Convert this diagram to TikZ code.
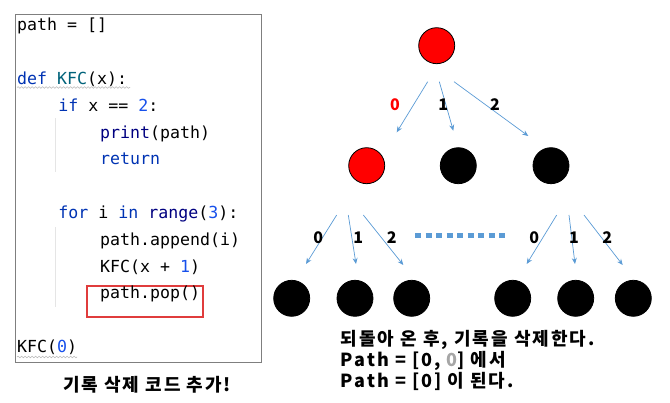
\documentclass[tikz,border=0pt]{standalone}
\usepackage{fontspec}
\setmonofont{DejaVu Sans Mono}
\newfontfamily\kr{Noto Sans CJK KR}
\newfontfamily\krw{Noto Sans CJK KR}[LetterSpace=11]
\usetikzlibrary{arrows.meta,decorations.pathmorphing}
\definecolor{kwc}{HTML}{0033B3}
\definecolor{bic}{HTML}{000080}
\definecolor{fnc}{HTML}{00627A}
\definecolor{numc}{HTML}{1750EB}
\definecolor{arrc}{HTML}{5B9BD5}
\definecolor{boxc}{HTML}{7F7F7F}
\definecolor{popc}{RGB}{224,60,60}
\definecolor{graytxt}{HTML}{A6A6A6}
\newcommand{\kwd}[1]{\textcolor{kwc}{#1}}
\newcommand{\bif}[1]{\textcolor{bic}{#1}}
\newcommand{\fnn}[1]{\textcolor{fnc}{#1}}
\newcommand{\nmb}[1]{\textcolor{numc}{#1}}
\begin{document}
\begin{tikzpicture}[x=1pt,y=-1pt,
  codeline/.style={anchor=base west,inner sep=0,font=\ttfamily\fontsize{16.6}{18}\selectfont},
  ball/.style={circle,draw=black,line width=0.8,minimum size=36,inner sep=0},
  redball/.style={ball,fill=red},
  blackball/.style={ball,fill=black},
  edge/.style={draw=arrc,line width=0.7,-{Stealth[length=6,width=5]}},
  elabel/.style={font=\kr\bfseries\fontsize{16}{18}\selectfont,inner sep=0},
  note/.style={font=\krw\bfseries\fontsize{18}{21}\selectfont,inner sep=0},
  wavy/.style={draw=gray!55,line width=0.6,decorate,decoration={snake,amplitude=0.8,segment length=3.5}},
  guide/.style={draw=gray!20,line width=0.8}
]
\useasboundingbox (0,0) rectangle (670,403);
% code box
\node (codebox) [draw=boxc,line width=1,minimum width=246,minimum height=348,anchor=north west,inner sep=0] at (15,14) {};
\coordinate (popnw) at (87,286);
\coordinate (popse) at (203,317);
\draw[color=popc,line width=1.3] (popnw) rectangle (popse);
\draw[guide] (55,118) -- (55,172);
\draw[guide] (55,227) -- (55,307);
\def\bl#1{31+26.8*#1}
\node (l0) [codeline] at (17,{\bl{0}}) {path = []};
\node (l2) [codeline] at (17,{\bl{2}}) {\kwd{def} \fnn{KFC}(x):};
\node (l3) [codeline] at (58.2,{\bl{3}}) {\kwd{if} x == \nmb{2}:};
\node (l4) [codeline] at (100,{\bl{4}}) {\bif{print}(path)};
\node (l5) [codeline] at (100,{\bl{5}}) {\kwd{return}};
\node (l7) [codeline] at (58.2,{\bl{7}}) {\kwd{for} i \kwd{in} \bif{range}(\nmb{3}):};
\node (l8) [codeline] at (100,{\bl{8}}) {path.append(i)};
\node (l9) [codeline] at (100,{\bl{9}}) {KFC(x + \nmb{1})};
\node (l10) [codeline] at (100,{\bl{10}}) {path.pop()};
\node (l12) [codeline] at (17,{\bl{12}}) {KFC(\nmb{0})};
\draw[wavy] (17,87.5) -- (130,87.5);
\draw[wavy] (17,357) -- (77,357);
\node (caption) [note] at (147,385) {기록 삭제 코드 추가!};
% tree
\node (root) [redball] at (436.7,45.7) {};
\node (a0) [redball] at (366.7,165.7) {};
\node (a1) [blackball] at (458.3,165.7) {};
\node (a2) [blackball] at (551,165.7) {};
\foreach \n/\x in {b0/291.7,b1/355,b2/411.7,c0/512.7,c1/575.7,c2/633.3}
  \node (\n) [blackball] at (\x,298.3) {};
% level 1 arrows
\coordinate (r0s) at (427.7,81.7); \coordinate (r0e) at (396.7,132.3);
\coordinate (r1s) at (439.3,81.7); \coordinate (r1e) at (453.3,130.7);
\coordinate (r2s) at (454,81.7);   \coordinate (r2e) at (528.3,136);
\draw[edge] (r0s) -- (r0e);
\draw[edge] (r1s) -- (r1e);
\draw[edge] (r2s) -- (r2e);
\node (t0) [elabel,text=red] at (395,104.3) {0};
\node (t1) [elabel] at (443.3,104.3) {1};
\node (t2) [elabel] at (495,104.3) {2};
% level 2 arrows left
\coordinate (p0s) at (336.7,215); \coordinate (p0e) at (306,264);
\coordinate (p1s) at (348.3,215); \coordinate (p1e) at (356,264);
\coordinate (p2s) at (363.3,215); \coordinate (p2e) at (403.3,265);
\draw[edge] (p0s) -- (p0e);
\draw[edge] (p1s) -- (p1e);
\draw[edge] (p2s) -- (p2e);
\node (u0) [elabel] at (318.3,237.3) {0};
\node (u1) [elabel] at (358.3,237.3) {1};
\node (u2) [elabel] at (391.7,237.3) {2};
% level 2 arrows right
\coordinate (q0s) at (556.7,215); \coordinate (q0e) at (526.7,264);
\coordinate (q1s) at (569,215);   \coordinate (q1e) at (575,264);
\coordinate (q2s) at (584,215);   \coordinate (q2e) at (622.7,265);
\draw[edge] (q0s) -- (q0e);
\draw[edge] (q1s) -- (q1e);
\draw[edge] (q2s) -- (q2e);
\node (v0) [elabel] at (534.3,237.3) {0};
\node (v1) [elabel] at (574,237.3) {1};
\node (v2) [elabel] at (607.3,237.3) {2};
% dotted line
\coordinate (ds) at (415,236); \coordinate (de) at (509,236);
\draw[arrc,line width=5,dash pattern=on 6 off 4.5] (ds) -- (de);
% notes
\node (n1) [note,anchor=west] at (340.7,340) {되돌아 온 후, 기록을 삭제한다.};
\node (n2) [note,anchor=west] at (340.7,361) {Path = [0, \textcolor{graytxt}{0}] 에서};
\node (n3) [note,anchor=west] at (340.7,381.7) {Path = [0] 이 된다.};
\end{tikzpicture}
\end{document}
